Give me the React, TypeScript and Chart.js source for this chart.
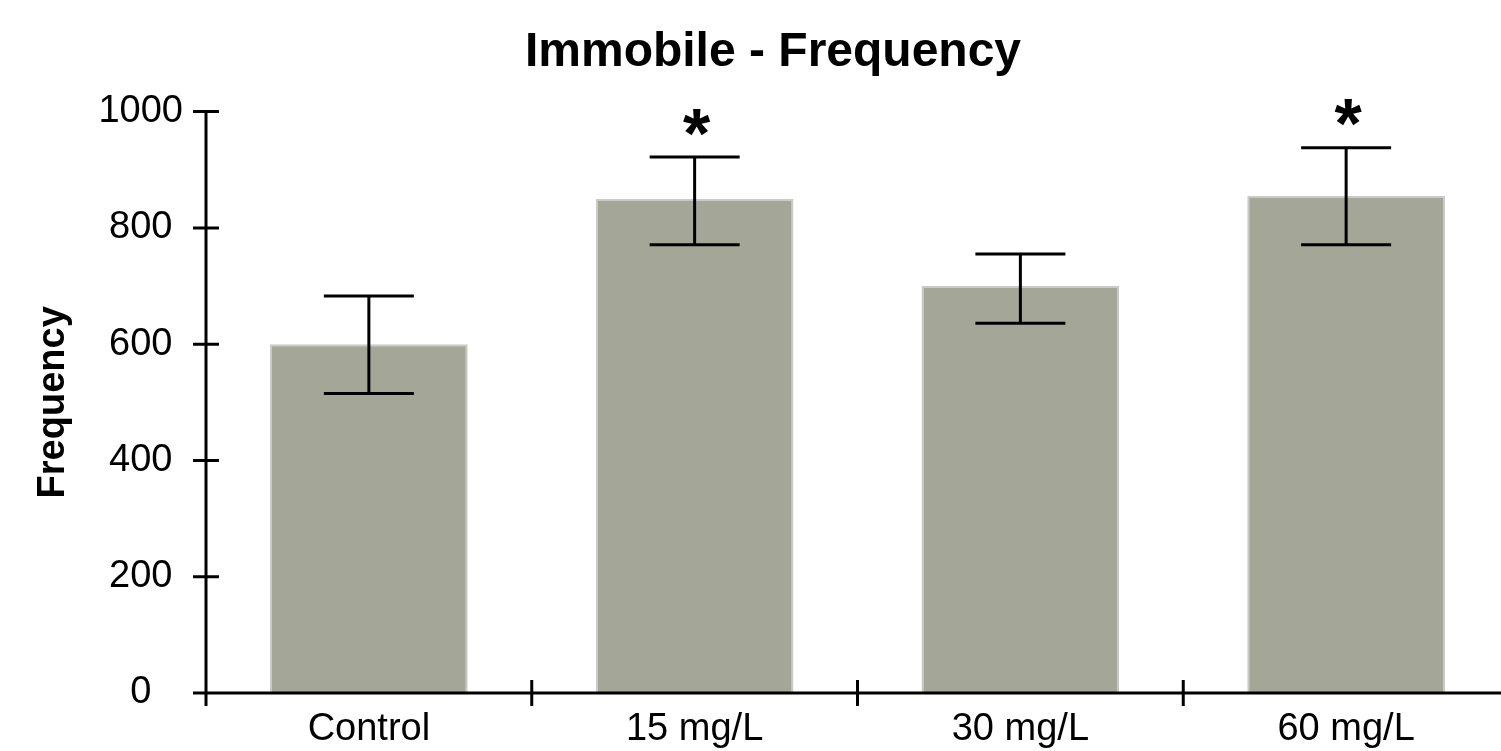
import React, { useEffect, useRef } from 'react';
import { Chart, registerables } from 'chart.js';

Chart.register(...registerables);

const categories = ['Control', '15 mg/L', '30 mg/L', '60 mg/L'];
const meanFrequency = [600, 850, 700, 855];
const errorUpper = [683, 922, 755, 938];
const errorLower = [515, 771, 636, 771];
const significance = ['', '*', '', '*'];
const yTickValues = [0, 200, 400, 600, 800, 1000];

const FONT = "'Liberation Sans', Arial, sans-serif";

const overlayPlugin = {
  id: 'overlayAxesErrors',
  afterDatasetsDraw(chart: any) {
    const { ctx, chartArea } = chart;
    const x = chart.scales.x;
    const y = chart.scales.y;
    ctx.save();
    ctx.strokeStyle = '#000';
    ctx.lineWidth = 3;
    ctx.lineCap = 'butt';
    const half = 45;
    categories.forEach((_, i) => {
      const cx = x.getPixelForValue(i);
      const yh = y.getPixelForValue(errorUpper[i]);
      const yl = y.getPixelForValue(errorLower[i]);
      ctx.beginPath();
      ctx.moveTo(cx, yh);
      ctx.lineTo(cx, yl);
      ctx.moveTo(cx - half, yh);
      ctx.lineTo(cx + half, yh);
      ctx.moveTo(cx - half, yl);
      ctx.lineTo(cx + half, yl);
      ctx.stroke();
      if (significance[i]) {
        const size = 70;
        ctx.font = `bold ${size}px ${FONT}`;
        ctx.fillStyle = '#000';
        ctx.textAlign = 'center';
        ctx.textBaseline = 'alphabetic';
        const centerY = yh - 38;
        ctx.fillText(significance[i], cx + 2, centerY + size * 0.555);
      }
    });
    const x0 = chartArea.left;
    const y0 = chartArea.bottom;
    const tl = 13;
    ctx.beginPath();
    ctx.moveTo(x0, chartArea.top - 1.5);
    ctx.lineTo(x0, y0 + tl);
    ctx.moveTo(x0 - tl, y0);
    ctx.lineTo(chart.width, y0);
    yTickValues.forEach((v) => {
      const py = y.getPixelForValue(v);
      ctx.moveTo(x0 - tl, py);
      ctx.lineTo(x0 + tl, py);
    });
    for (let i = 1; i < categories.length; i++) {
      const px = (x.getPixelForValue(i - 1) + x.getPixelForValue(i)) / 2;
      ctx.moveTo(px, y0 - tl);
      ctx.lineTo(px, y0 + tl);
    }
    ctx.stroke();
    ctx.restore();
  },
};

export default function App() {
  const canvasRef = useRef<HTMLCanvasElement | null>(null);

  useEffect(() => {
    if (!canvasRef.current) return;
    const chart = new Chart(canvasRef.current, {
      type: 'bar',
      data: {
        labels: categories,
        datasets: [
          {
            label: 'Frequency',
            data: meanFrequency,
            backgroundColor: '#a4a797',
            borderColor: '#cacac6',
            borderWidth: { top: 2, left: 2, right: 2, bottom: 0 },
            borderSkipped: false,
            barPercentage: 0.607,
            categoryPercentage: 1,
          },
        ],
      },
      options: {
        responsive: true,
        maintainAspectRatio: false,
        animation: false,
        layout: { padding: { left: 37, right: 0, top: 0, bottom: 0 } },
        plugins: {
          legend: { display: false },
          tooltip: { enabled: false },
          title: {
            display: true,
            text: 'Immobile - Frequency',
            color: '#000',
            font: { family: FONT, size: 48, weight: 'bold' },
            padding: { top: 24, bottom: 30 },
          },
        },
        scales: {
          x: {
            type: 'category',
            offset: true,
            grid: { display: false, drawTicks: false },
            border: { display: false },
            ticks: {
              color: '#000',
              font: { family: FONT, size: 38 },
              padding: 14,
              maxRotation: 0,
              autoSkip: false,
            },
            afterFit: (scale: any) => {
              scale.height = 58;
            },
          },
          y: {
            min: 0,
            max: 1000,
            grid: { display: false, drawTicks: false },
            border: { display: false },
            afterBuildTicks: (scale: any) => {
              scale.ticks = yTickValues.map((v) => ({ value: v }));
            },
            ticks: {
              color: '#000',
              font: { family: FONT, size: 38 },
              padding: 23,
              crossAlign: 'center',
              callback: (value: any) => String(value),
            },
            title: {
              display: true,
              text: 'Frequency',
              color: '#000',
              font: { family: FONT, size: 38, weight: 'bold' },
              padding: { top: -6, bottom: 0 },
            },
            afterFit: (scale: any) => {
              scale.width = 169;
            },
          },
        },
      },
      plugins: [overlayPlugin],
    });
    return () => chart.destroy();
  }, []);

  return (
    <div
      style={{
        position: 'fixed',
        left: 0,
        top: 0,
        width: 1501,
        height: 751,
        overflow: 'hidden',
        background: '#fff',
      }}
    >
      <div style={{ position: 'relative', width: 1509, height: 751 }}>
        <canvas ref={canvasRef} />
      </div>
    </div>
  );
}
